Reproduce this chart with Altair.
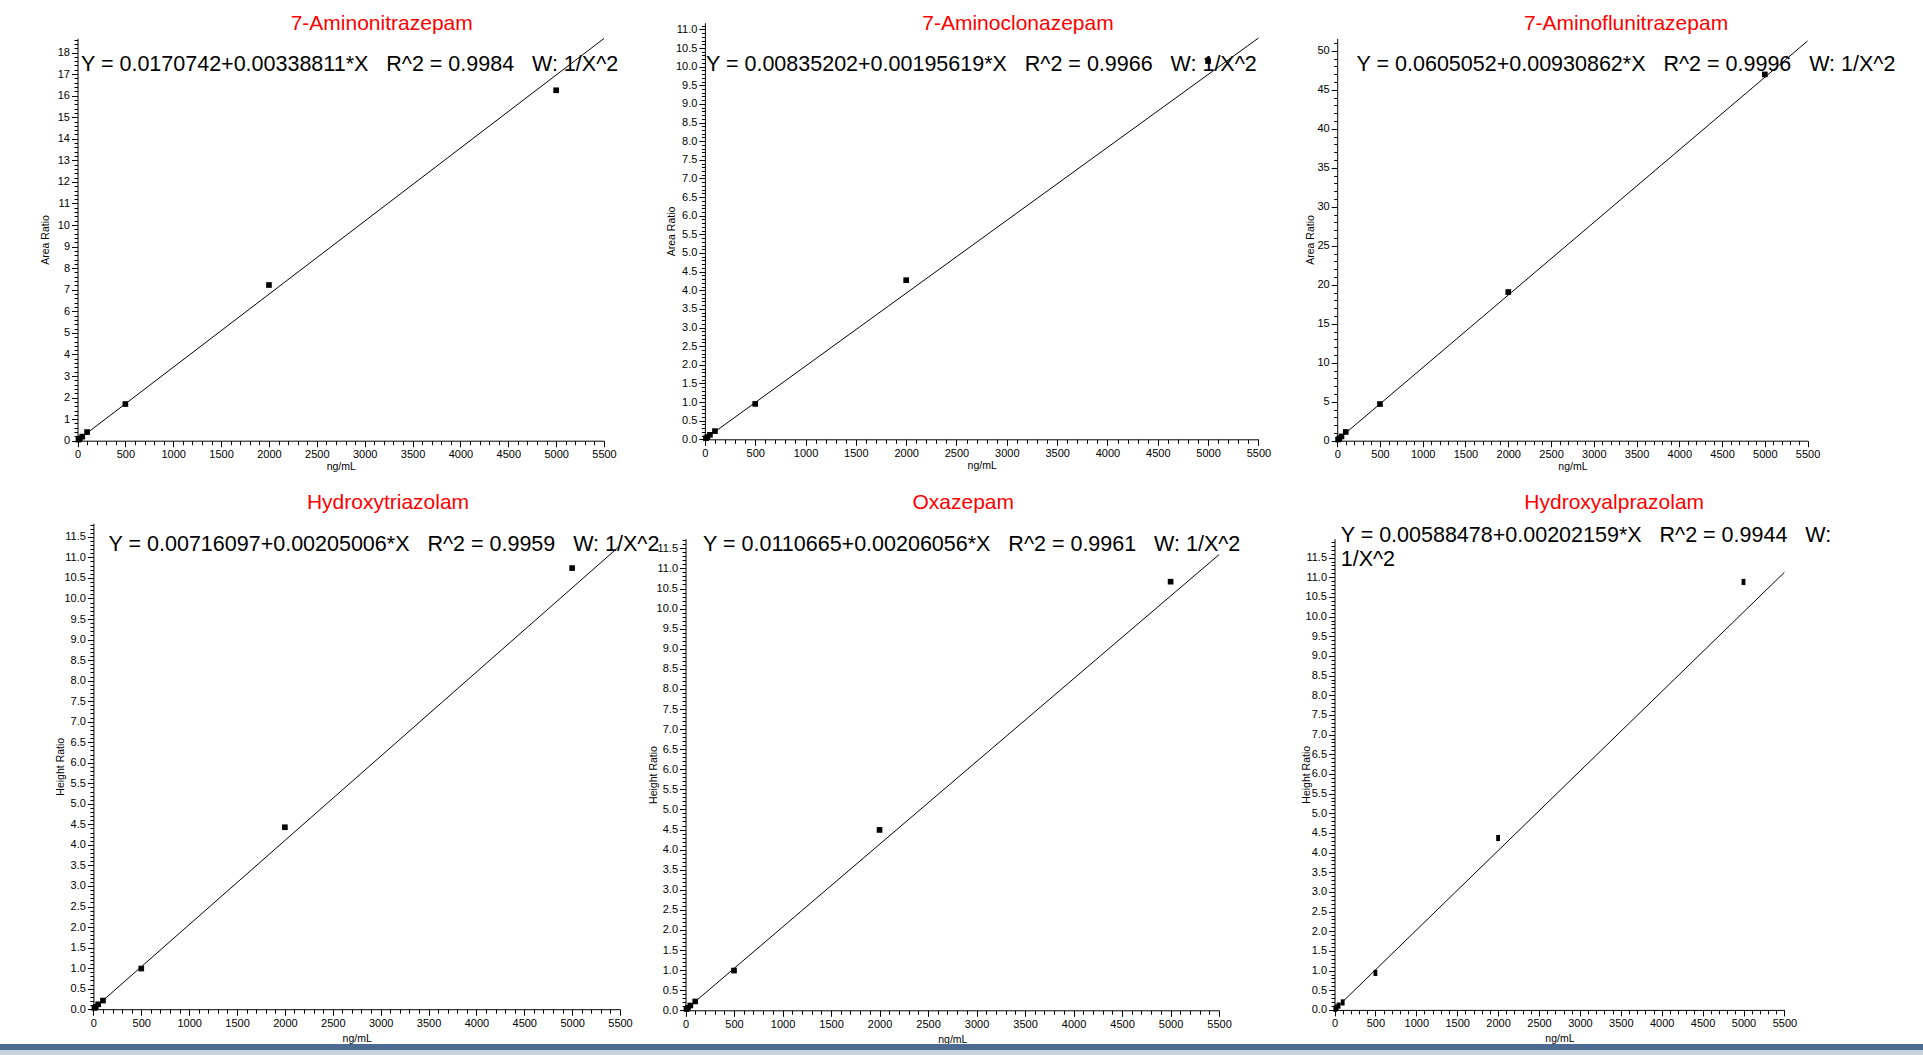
import altair as alt
import pandas as pd

W, H = 1923, 1055
FONT = "Liberation Sans"

# ---------------- data ----------------
conc = [10, 25, 50, 100, 500, 2000, 5000]
line_conc = [0, 5500]

names = ["7-Aminonitrazepam", "7-Aminoclonazepam", "7-Aminoflunitrazepam",
         "Hydroxytriazolam", "Oxazepam", "Hydroxyalprazolam"]
y_titles = ["Area Ratio", "Area Ratio", "Area Ratio",
            "Height Ratio", "Height Ratio", "Height Ratio"]
SP = "\u00a0\u00a0\u00a0"
equations = [
    "Y = 0.0170742+0.00338811*X" + SP + "R^2 = 0.9984" + SP + "W: 1/X^2",
    "Y = 0.00835202+0.00195619*X" + SP + "R^2 = 0.9966" + SP + "W: 1/X^2",
    "Y = 0.0605052+0.00930862*X" + SP + "R^2 = 0.9996" + SP + "W: 1/X^2",
    "Y = 0.00716097+0.00205006*X" + SP + "R^2 = 0.9959" + SP + "W: 1/X^2",
    "Y = 0.0110665+0.00206056*X" + SP + "R^2 = 0.9961" + SP + "W: 1/X^2",
    "Y = 0.00588478+0.00202159*X" + SP + "R^2 = 0.9944" + SP + "W:\n1/X^2",
]
resp = [
    [0.05, 0.10, 0.19, 0.40, 1.70, 7.22, 16.25],
    [0.03, 0.06, 0.12, 0.22, 0.95, 4.27, 10.15],
    [0.15, 0.30, 0.55, 1.12, 4.70, 19.06, 46.97],
    [0.03, 0.06, 0.12, 0.21, 0.99, 4.43, 10.74],
    [0.03, 0.06, 0.12, 0.22, 0.99, 4.49, 10.67],
    [0.03, 0.06, 0.11, 0.19, 0.94, 4.37, 10.88],
]
line_resp = [
    [0.0171, 18.652],
    [0.0084, 10.767],
    [0.0605, 51.258],
    [0.0072, 11.283],
    [0.0111, 11.344],
    [0.0059, 11.125],
]
y_max = [18.66, 11.18, 51.6, 11.83, 11.74, 11.98]
y_major_step = [1, 0.5, 5, 0.5, 0.5, 0.5]
y_minor_step = [0.2, 0.1, 1, 0.1, 0.1, 0.1]
y_format = ["d", ".1f", "d", ".1f", ".1f", ".1f"]
x_major = list(range(0, 5501, 500))
x_minor = [v for v in range(0, 5501, 100) if v % 500]

# ---------------- layout (pixels) ----------------
X0 = [77.5, 704.9, 1337.2, 93.4, 685.5, 1334.5]
X1 = [604.0, 1258.4, 1807.6, 620.0, 1219.1, 1784.4]
YB = [440.7, 439.3, 440.7, 1009.2, 1010.3, 1009.9]
YT = [38.3, 22.7, 38.3, 523.3, 538.7, 538.7]
TITLE_X = [381.7, 1018.0, 1626.0, 388.0, 963.2, 1614.2]
TITLE_Y = [29.5, 29.5, 29.5, 509.3, 509.3, 509.3]
EQ_X = [81.0, 706.0, 1356.6, 108.6, 703.1, 1340.7]
EQ_Y = [70.7, 70.7, 70.7, 550.8, 550.8, 542.3]
YT_OFF = [-28.6, -30.6, -23.8, -30.2, -29.0, -24.9]
XT_OFF = [29.0, 29.0, 29.0, 32.0, 32.0, 32.0]


def ticks(top, step, exclude=()):
    out = []
    k = 0
    while k * step <= top + 1e-9:
        v = round(k * step, 2)
        if v not in exclude:
            out.append(v)
        k += 1
    return out


common_axis = dict(
    labelFont=FONT, labelFontSize=11, labelColor="black",
    tickColor="black", tickWidth=1, domainColor="black", domainWidth=1,
    grid=False, labelFlush=False, labelOverlap=False, labelBound=False,
    titleFont=FONT, titleFontSize=10.5, titleFontWeight="normal", titleColor="black",
)

layers = []
for i in range(6):
    ymaj = ticks(y_max[i], y_major_step[i])
    ymin = ticks(y_max[i], y_minor_step[i], exclude=set(ymaj))
    xs = alt.Scale(domain=[0, 5500], range=[X0[i], X1[i]], nice=False, zero=False)
    ys = alt.Scale(domain=[0, y_max[i]], range=[YB[i], YT[i]], nice=False, zero=False)

    x_axis_major = alt.Axis(orient="bottom", offset=YB[i] - H, values=x_major, format="d",
                            tickSize=6, labelPadding=2, title="ng/mL",
                            titleY=XT_OFF[i], titleBaseline="alphabetic", **common_axis)
    y_axis_major = alt.Axis(orient="left", offset=-X0[i], values=ymaj, format=y_format[i],
                            tickSize=6, labelPadding=2, title=y_titles[i],
                            titleX=YT_OFF[i], titleBaseline="alphabetic", **common_axis)
    x_axis_minor = alt.Axis(orient="bottom", offset=YB[i] - H, values=x_minor, labels=False,
                            domain=False, tickSize=4, tickColor="black", grid=False, title=None)
    y_axis_minor = alt.Axis(orient="left", offset=-X0[i], values=ymin, labels=False,
                            domain=False, tickSize=3.5, tickColor="black", grid=False, title=None)

    df_pts = pd.DataFrame({"conc": conc, "resp": resp[i]})
    df_line = pd.DataFrame({"conc": line_conc, "resp": line_resp[i]})

    line = alt.Chart(df_line).mark_line(color="black", strokeWidth=1).encode(
        x=alt.X("conc:Q", scale=xs, axis=x_axis_minor),
        y=alt.Y("resp:Q", scale=ys, axis=y_axis_minor),
    )
    if i == 5:
        pts_mark = alt.Chart(df_pts).mark_point(
            shape="M-0.62,-1L0.62,-1L0.62,1L-0.62,1Z", filled=True, size=38,
            color="black", opacity=1)
    else:
        pts_mark = alt.Chart(df_pts).mark_square(size=32, color="black", opacity=1)
    pts = pts_mark.encode(
        x=alt.X("conc:Q", scale=xs, axis=x_axis_major),
        y=alt.Y("resp:Q", scale=ys, axis=y_axis_major),
    )
    title = alt.Chart(pd.DataFrame({"t": [names[i]]})).mark_text(
        align="center", baseline="alphabetic", font=FONT, fontSize=21, color="#ff0000"
    ).encode(x=alt.value(TITLE_X[i]), y=alt.value(TITLE_Y[i]), text="t:N")
    eq = alt.Chart(pd.DataFrame({"t": [equations[i]]})).mark_text(
        align="left", baseline="alphabetic", font=FONT, fontSize=21.5, color="black",
        lineBreak="\n", lineHeight=24
    ).encode(x=alt.value(EQ_X[i]), y=alt.value(EQ_Y[i]), text="t:N")
    layers += [line, pts, title, eq]

# slide footer bar
bar = alt.Chart(pd.DataFrame({"a": [0]})).mark_rect(color="#4d6b91").encode(
    x=alt.value(0), x2=alt.value(W), y=alt.value(1044), y2=alt.value(1050))
bar2 = alt.Chart(pd.DataFrame({"a": [0]})).mark_rect(color="#c9d4e0").encode(
    x=alt.value(0), x2=alt.value(W), y=alt.value(1050), y2=alt.value(H))

chart = alt.layer(bar, bar2, *layers).resolve_scale(
    x="independent", y="independent"
).resolve_axis(
    x="independent", y="independent"
).properties(
    width=W, height=H, padding=0,
    autosize=alt.AutoSizeParams(type="none"),
    background="white",
).configure_view(stroke=None)

chart.save("out.html", embed_options={"renderer": "svg", "actions": False})
